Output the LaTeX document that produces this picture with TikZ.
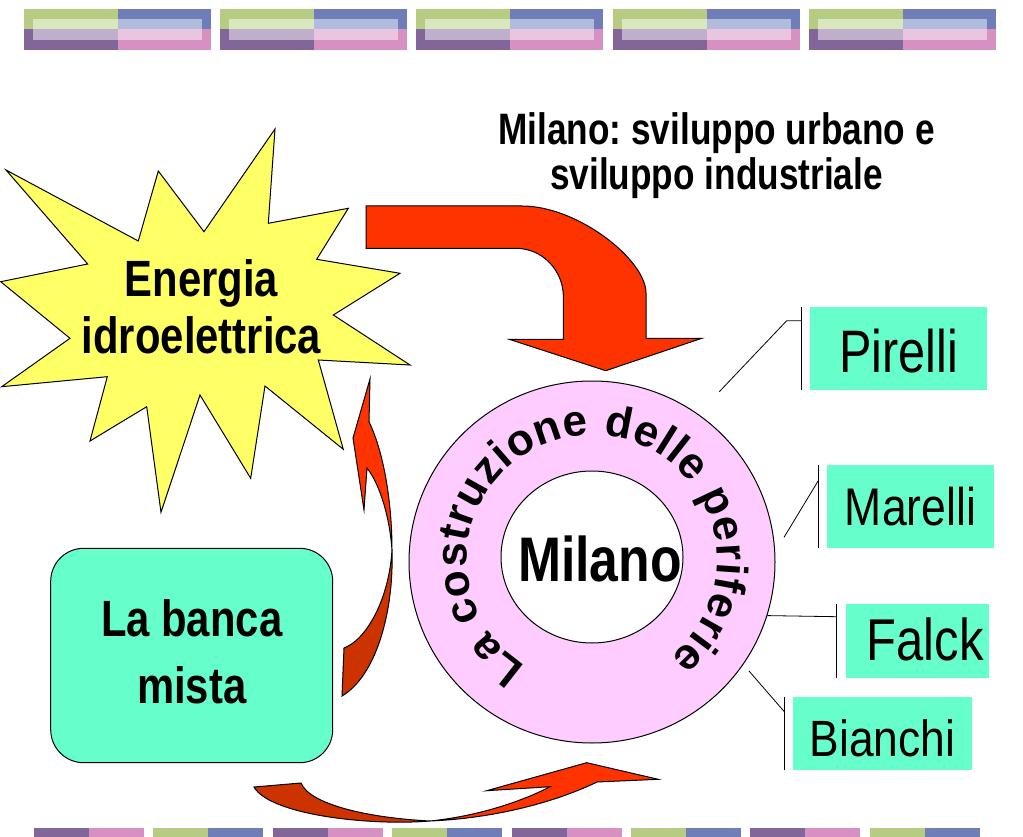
\documentclass[tikz,border=0pt]{standalone}
\usepackage{fontspec}
\setmainfont{Liberation Sans}
\usetikzlibrary{decorations.text,shapes.geometric}
\definecolor{burstY}{HTML}{FFFF66}
\definecolor{aqua}{HTML}{66FFCC}
\definecolor{ringP}{HTML}{FFCCFF}
\definecolor{arrR}{HTML}{FF3300}
\definecolor{arrD}{HTML}{CC3300}
\definecolor{bG}{HTML}{B5CC82}
\definecolor{bB}{HTML}{6F7DB8}
\definecolor{bP}{HTML}{826699}
\definecolor{bK}{HTML}{D690C2}
\definecolor{lG}{HTML}{D9E6BE}
\definecolor{lB}{HTML}{B1BBDB}
\definecolor{lP}{HTML}{C0AFCB}
\definecolor{lK}{HTML}{EAC5E0}
\frenchspacing
\newcommand{\sx}[2]{\scalebox{#1}[1]{#2}}
\newcommand{\fs}[1]{\fontsize{#1}{#1}\selectfont}
\newcommand{\circfont}{\fontsize{44}{44}\selectfont\bfseries}
\begin{document}
\begin{tikzpicture}[x=1pt,y=1pt,
  outl/.style={draw=black,line width=1pt,line join=miter},
  lbl/.style={inner sep=0pt,anchor=base},
  callbox/.style={fill=aqua,inner sep=0pt},
  callline/.style={draw=black,line width=0.8pt}]
\fill[white] (0,0) rectangle (1023,-837);
\useasboundingbox (0,0) rectangle (1023,-837);
% top banner
\foreach \i in {0,...,4}{
 \begin{scope}[shift={(24+196.2*\i,0)}]
  \fill[bG] (0,-9) rectangle (94,-29.5);
  \fill[bB] (94,-9) rectangle (187,-29.5);
  \fill[bP] (0,-29.5) rectangle (94,-50);
  \fill[bK] (94,-29.5) rectangle (187,-50);
  \fill[lG] (9,-19) rectangle (94,-29.5);
  \fill[lB] (94,-19) rectangle (178,-29.5);
  \fill[lP] (9,-29.5) rectangle (94,-40);
  \fill[lK] (94,-29.5) rectangle (178,-40);
 \end{scope}}
% bottom banner
\foreach \i in {0,2,4,6}{
 \begin{scope}[shift={(34+119.4*\i,0)}]
  \fill[bP] (0,-828.3) rectangle (55,-840);
  \fill[bK] (55,-828.3) rectangle (110,-840);
 \end{scope}}
\foreach \i in {1,3,5,7}{
 \begin{scope}[shift={(34+119.4*\i,0)}]
  \fill[bG] (0,-828.3) rectangle (55,-840);
  \fill[bB] (55,-828.3) rectangle (110,-840);
 \end{scope}}
% title
\node[lbl,font=\fs{44}\bfseries] (title1) at (716.5,-145) {\sx{0.80}{Milano: sviluppo urbano e}};
\node[lbl,font=\fs{44}\bfseries] (title2) at (716.5,-190) {\sx{0.80}{sviluppo industriale}};
% starburst
\draw[outl,fill=burstY] (275,-129) -- (268.3,-223.3) -- (348.3,-208.3) -- (316.7,-259.3)
 -- (400,-273.3) -- (333.3,-315) -- (410,-365) -- (318.3,-360) -- (343.3,-449.3)
 -- (265,-386) -- (250.7,-478.3) -- (200,-395) -- (161,-512.3) -- (146.7,-406.7)
 -- (90,-441) -- (107.3,-376.7) -- (1.7,-386.7) -- (70,-338.3) -- (0.7,-281.7)
 -- (87.7,-264) -- (6,-170) -- (138.3,-241) -- (158.3,-171) -- (204,-231.7) -- cycle;
\node[lbl,font=\fs{51}\bfseries] (energia1) at (201.5,-296.7) {\sx{0.82}{Energia}};
\node[lbl,font=\fs{51}\bfseries] (energia2) at (201.5,-353.3) {\sx{0.82}{idroelettrica}};
% big bent arrow
\draw[outl,fill=arrR] (366,-206) -- (522,-206) .. controls (578,-206) and (646,-260) .. (646,-293)
 -- (646,-338.3) -- (701.8,-338.3) -- (605.7,-370.7) -- (509.2,-339.3) -- (563.4,-339.3)
 -- (563.4,-297) .. controls (563.4,-270) and (542,-248.3) .. (516,-248.3) -- (366,-248.3) -- cycle;
% ring
\node[outl,fill=ringP,ellipse,minimum width=366pt,minimum height=362pt,inner sep=0pt] (ring) at (592,-562) {};
\node[outl,fill=white,ellipse,minimum width=182pt,minimum height=172pt,inner sep=0pt] (core) at (592,-557) {};
\node[lbl,font=\fs{63}\bfseries] (milano) at (600,-581.7) {\sx{0.82}{Milano}};
\path[decorate,decoration={text along path,text={|\circfont|La costruzione delle periferie},text align={fit to path}}]
 (592,-560) ++(238:125) arc[start angle=238,end angle=-51,radius=125];
% banca
\node[outl,fill=aqua,rounded corners=33pt,minimum width=282pt,minimum height=214.4pt,inner sep=0pt] (banca) at (191.7,-655.5) {};
\node[lbl,font=\fs{51}\bfseries] (banca1) at (191.7,-636.7) {\sx{0.82}{La banca}};
\node[lbl,font=\fs{51}\bfseries] (banca2) at (191.7,-703.3) {\sx{0.82}{mista}};
% up curved arrow (banca -> energia)
\fill[arrD,draw=black,line width=1pt] (344,-648) .. controls (366,-640) and (389,-600) .. (392,-550)
 .. controls (394,-612) and (376,-676) .. (342,-696) -- cycle;
\fill[arrR,draw=black,line width=1pt] (370,-379) -- (369,-422) .. controls (383,-450) and (392,-500) .. (392,-550)
 .. controls (390,-520) and (381,-486) .. (367,-468) -- (364,-510) -- (353,-438) -- cycle;
% bottom curved arrow (banca -> ring)
\fill[arrD,draw=black,line width=1pt] (254,-787) -- (301,-783) .. controls (310,-805) and (370,-818) .. (430,-821)
 .. controls (370,-826) and (270,-815) .. (254,-787) -- cycle;
\fill[arrR,draw=black,line width=1pt] (430,-821) .. controls (500,-818) and (560,-800) .. (597,-782)
 -- (658.3,-779.3) -- (586.7,-762.7) -- (486.7,-790.7) -- (550,-786.7)
 .. controls (525,-800) and (480,-816) .. (430,-821) -- cycle;
% callouts
\node[callbox,minimum width=177.3pt,minimum height=82.7pt] (pirelli) at (898.7,-348.7) {};
\node[lbl,font=\fs{60}] (pirelliT) at (898.8,-372.7) {\sx{0.81}{Pirelli}};
\coordinate (pA) at (719.3,-391.7);
\coordinate (pB) at (786.7,-320.7);
\coordinate (pC) at (801,-320.7);
\draw[callline] (801,-307.3) -- (801,-390);
\draw[callline] (pA) -- (pB) -- (pC);

\node[callbox,minimum width=167.3pt,minimum height=83.3pt] (marelli) at (910.3,-506.7) {};
\node[lbl,font=\fs{53}] (marelliT) at (910.5,-525) {\sx{0.84}{Marelli}};
\coordinate (mA) at (784,-537.3);
\coordinate (mB) at (818.3,-480.7);
\draw[callline] (818.3,-465) -- (818.3,-548.3);
\draw[callline] (mA) -- (mB);

\node[callbox,minimum width=143.3pt,minimum height=73.7pt] (falck) at (917.3,-640.8) {};
\node[lbl,font=\fs{59}] (falckT) at (925.3,-660.7) {\sx{0.83}{Falck}};
\coordinate (fB) at (836.7,-616.7);
\draw[callline] (836.7,-604) -- (836.7,-677.7);
\draw[callline] (ring.-17.5) -- (fB);

\node[callbox,minimum width=178.3pt,minimum height=72.7pt] (bianchi) at (882.5,-733.7) {};
\node[lbl,font=\fs{51}] (bianchiT) at (882.5,-756.7) {\sx{0.87}{Bianchi}};
\coordinate (bA) at (749,-671);
\coordinate (bB) at (784.3,-711.7);
\draw[callline] (784.3,-697.3) -- (784.3,-770);
\draw[callline] (bA) -- (bB);
\end{tikzpicture}
\end{document}
